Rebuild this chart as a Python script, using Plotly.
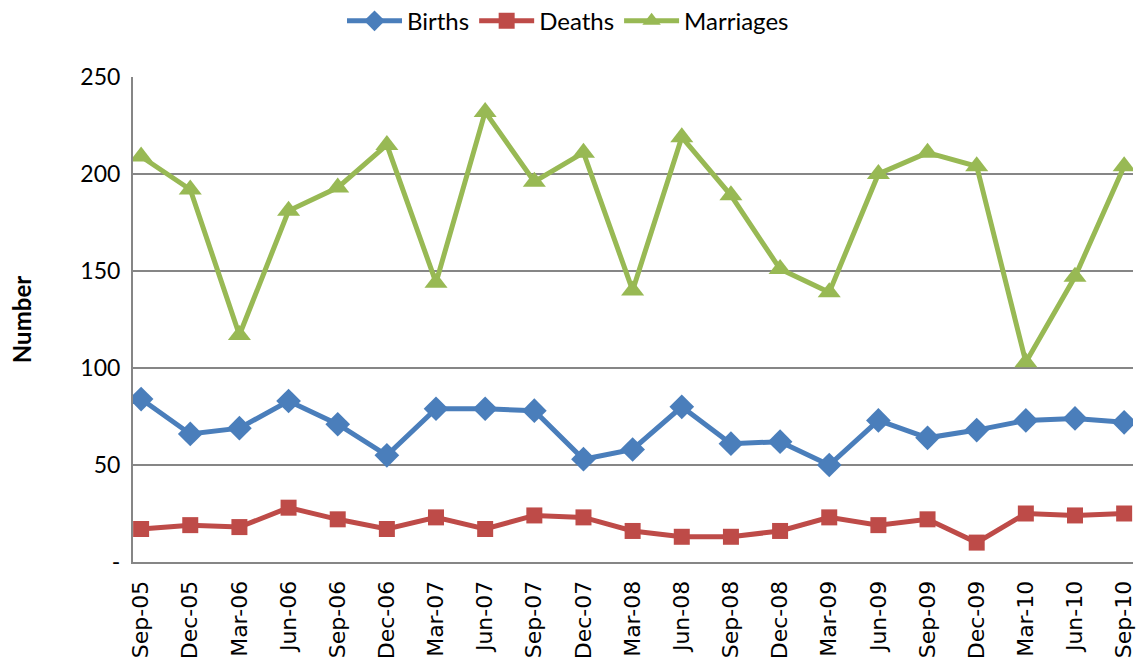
import plotly.graph_objects as go

quarters = ["Sep-05", "Dec-05", "Mar-06", "Jun-06", "Sep-06", "Dec-06", "Mar-07",
            "Jun-07", "Sep-07", "Dec-07", "Mar-08", "Jun-08", "Sep-08", "Dec-08",
            "Mar-09", "Jun-09", "Sep-09", "Dec-09", "Mar-10", "Jun-10", "Sep-10"]

births = [84, 66, 69, 83, 71, 55, 79, 79, 78, 53, 58, 80, 61, 62, 50, 73, 64, 68, 73, 74, 72]
deaths = [17, 19, 18, 28, 22, 17, 23, 17, 24, 23, 16, 13, 13, 16, 23, 19, 22, 10, 25, 24, 25]
marriages = [209, 192, 117, 181, 193, 215, 144, 232, 196, 211, 140, 219, 189, 151, 139,
             200, 211, 204, 103, 147, 204]

y_ticks = [0, 50, 100, 150, 200, 250]
y_tick_text = ["-", "50", "100", "150", "200", "250"]

series = [
    ("Births", births, "#4A7EBB", "diamond", 19),
    ("Deaths", deaths, "#BE4B48", "square", 16),
    ("Marriages", marriages, "#98B954", "triangle-up", 20),
]

fig = go.Figure()
for name, vals, color, symbol, size in series:
    fig.add_trace(go.Scatter(
        x=list(range(len(quarters))), y=vals, name=name, mode="lines+markers",
        line=dict(color=color, width=5),
        marker=dict(symbol=symbol, size=size, color=color),
    ))

fig.update_layout(
    width=1143, height=665,
    margin=dict(l=133, r=10, t=77, b=103, autoexpand=False),
    paper_bgcolor="white", plot_bgcolor="white",
    font=dict(family="Lato, Carlito, sans-serif", size=22, color="black"),
    legend=dict(orientation="h", x=0.435, xanchor="center", y=1.115, yanchor="middle",
                font=dict(size=24), itemwidth=55, traceorder="normal"),
    showlegend=True,
)

fig.update_xaxes(
    tickmode="array", tickvals=list(range(len(quarters))), ticktext=quarters,
    tickangle=-90, range=[-0.165, 20.18],
    tickfont=dict(family="DejaVu Sans, sans-serif", size=22),
    showgrid=False, showline=True, linecolor="#868686", linewidth=2,
    zeroline=False, ticks="outside", ticklen=8, tickcolor="rgba(0,0,0,0)",
)
fig.update_yaxes(
    tickmode="array", tickvals=y_ticks, ticktext=y_tick_text,
    range=[0, 250], showgrid=True, gridcolor="#868686", gridwidth=1.5,
    showline=True, linecolor="#868686", linewidth=2, zeroline=False,
    ticks="outside", ticklen=6, tickcolor="rgba(0,0,0,0)", tickfont=dict(size=23),
    title=dict(text="<b>Number</b>", font=dict(size=24), standoff=42),
)

fig.write_html("out.html")
